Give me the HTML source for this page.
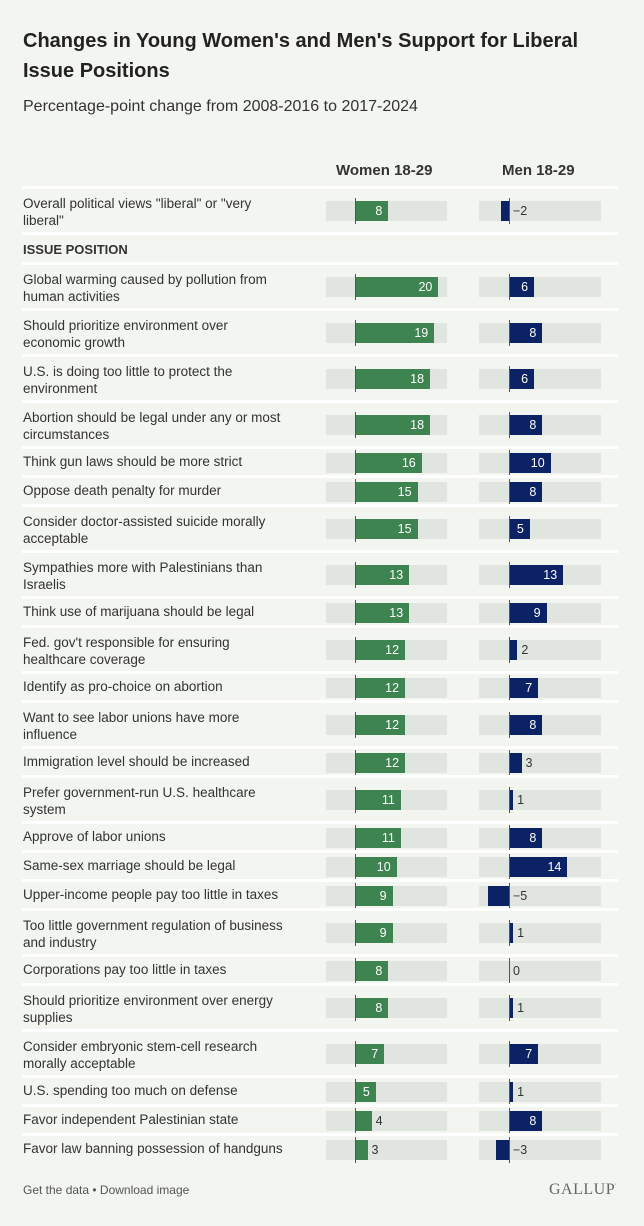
<!DOCTYPE html>
<html><head><meta charset="utf-8">
<style>
body{margin:0;background:#f2f5f0;font-family:"Liberation Sans",sans-serif;color:#222;}
#wrap{position:relative;width:644px;height:1226px;overflow:hidden;background:#f2f5f0;}
.t{position:absolute;}
h1{position:absolute;left:23px;top:26px;margin:0;font-size:20px;line-height:30px;font-weight:bold;color:#222;width:560px;}
.sub{left:23px;top:98px;font-size:16px;color:#333;}
.colh{top:162px;font-size:15px;font-weight:bold;color:#333;}
.sep{position:absolute;left:22px;width:596px;height:3px;background:#fff;}
.lab{position:absolute;left:23px;width:300px;font-size:13.5px;line-height:17px;color:#333;white-space:pre-line;}
.bg{position:absolute;height:20px;background:#e1e5e0;}
.bar{position:absolute;height:20px;}
.zero{position:absolute;width:1px;background:#555;}
.val{position:absolute;font-size:12.5px;line-height:20px;}
.foot{left:23px;top:1183px;font-size:12px;color:#555;}
.logo{left:549px;top:1181px;font-family:"Liberation Serif",serif;font-size:16px;color:#666;letter-spacing:0.5px;}
</style></head><body>
<div id="wrap">
<h1>Changes in Young Women's and Men's Support for Liberal Issue Positions</h1>
<div class="t sub">Percentage-point change from 2008-2016 to 2017-2024</div>
<div class="t colh" style="left:336px">Women 18-29</div>
<div class="t colh" style="left:502px">Men 18-29</div>
<div class="t foot">Get the data • Download image</div>
<div class="t logo">GALLUP<sup style="font-size:6px">'</sup></div>
</div>
<script>
const categories=["Overall political views \"liberal\" or \"very\nliberal\"","ISSUE POSITION","Global warming caused by pollution from\nhuman activities","Should prioritize environment over\neconomic growth","U.S. is doing too little to protect the\nenvironment","Abortion should be legal under any or most\ncircumstances","Think gun laws should be more strict","Oppose death penalty for murder","Consider doctor-assisted suicide morally\nacceptable","Sympathies more with Palestinians than\nIsraelis","Think use of marijuana should be legal","Fed. gov't responsible for ensuring\nhealthcare coverage","Identify as pro-choice on abortion","Want to see labor unions have more\ninfluence","Immigration level should be increased","Prefer government-run U.S. healthcare\nsystem","Approve of labor unions","Same-sex marriage should be legal","Upper-income people pay too little in taxes","Too little government regulation of business\nand industry","Corporations pay too little in taxes","Should prioritize environment over energy\nsupplies","Consider embryonic stem-cell research\nmorally acceptable","U.S. spending too much on defense","Favor independent Palestinian state","Favor law banning possession of handguns"];
const rowLines=[2,0,2,2,2,2,1,1,2,2,1,2,1,2,1,2,1,1,1,2,1,2,2,1,1,1];
const womenValues=[8,null,20,19,18,18,16,15,15,13,13,12,12,12,12,11,11,10,9,9,8,8,7,5,4,3];
const menValues=[-2,null,6,8,6,8,10,8,5,13,9,2,7,8,3,1,8,14,-5,1,0,1,7,1,8,-3];
const wrap=document.getElementById('wrap');
const SC=4.17;
function wx(v){return 355+v*SC;}
function mx(v){return 509+v*SC;}
function add(cls,css,txt){const d=document.createElement('div');d.className=cls;d.style.cssText=css;if(txt!=null)d.textContent=txt;wrap.appendChild(d);return d;}
let y=188;
let s=add('sep','top:'+(y-2)+'px');


categories.forEach((c,i)=>{
  const h=i===1?30:(rowLines[i]===2?46:29);
  const cy=y+h/2;
  if(i===1){
    const l=add('lab','top:'+(cy-8)+'px;font-weight:bold;font-size:13px',c);
    
    
  } else {
    const l=add('lab','top:'+(cy-rowLines[i]*17/2+(rowLines[i]===2?1:-1))+'px',c);
    
    
    [[womenValues[i],wx,326,121,'#3d8450'],[menValues[i],mx,479,122,'#0b2265']].forEach(([v,f,bx,bw,col],k)=>{
      const g=add('bg','left:'+bx+'px;width:'+bw+'px;top:'+(cy-10)+'px');
      
      
      const x0=Math.min(f(0),f(v)),w=Math.abs(f(v)-f(0));
      const b=add('bar','left:'+x0+'px;width:'+w+'px;top:'+(cy-10)+'px;background:'+col);
      
      
      const z=add('zero','left:'+f(0)+'px;top:'+(cy-13)+'px;height:26px');
      
      
      const txt=v<0?'\u2212'+(-v):String(v);
      let t;
      if(v>=5){t=add('val','left:'+(f(v)-40)+'px;width:34px;text-align:right;color:#fff;top:'+(cy-10)+'px',txt);}
      else{t=add('val','left:'+(f(0)+(v>0?w:0)+4)+'px;color:#333;top:'+(cy-10)+'px',txt);}
      
      
    });
  }
  y+=h;
  if(i<categories.length-1){
    const sp=add('sep','top:'+(y-2)+'px');
    
    
  }
});
</script>
</body></html>
